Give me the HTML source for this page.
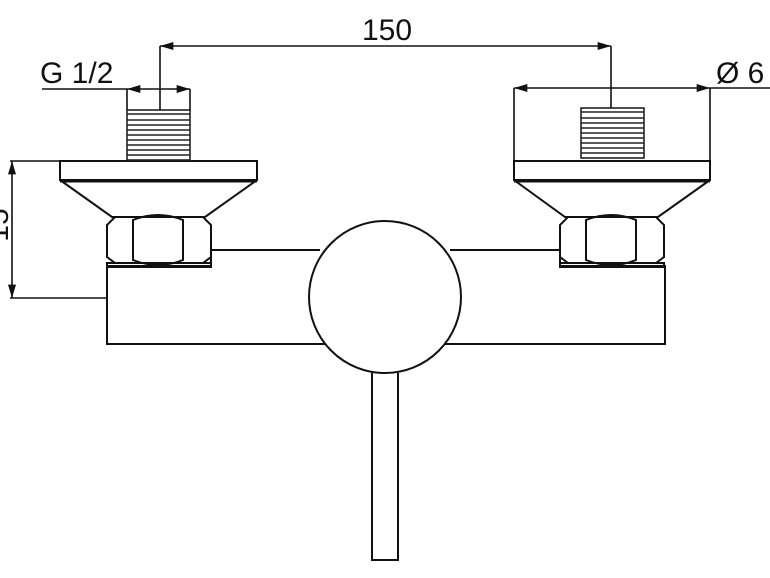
<!DOCTYPE html>
<html><head><style>body{margin:0;background:#fff}svg{display:block}</style></head><body>
<svg width="770" height="578" viewBox="0 0 770 578" xmlns="http://www.w3.org/2000/svg">
<defs>
<marker id="a" viewBox="0 0 10 6" refX="10" refY="3" markerWidth="18" markerHeight="8" markerUnits="userSpaceOnUse" orient="auto-start-reverse"><path d="M0,0 L10,3 L0,6 z" fill="#111"/></marker>
<g id="thr" stroke="#222" stroke-width="1.6" fill="none">
<rect x="0" y="0" width="63" height="50"/>
<path d="M0,4H63M0,10H63M0,15H63M0,20H63M0,25H63M0,30H63M0,35H63M0,40H63M0,45H63"/>
</g>
</defs>
<g stroke="#111" stroke-width="2" fill="none">
<!-- body -->
<path d="M320,250 H211 V266 H107 V344 H665 V266 H560 V250 H450"/>
<circle cx="385" cy="297" r="76" fill="#fff"/>
<path d="M372,373 V560 H398 V373"/>
<!-- left fitting -->
<rect x="60" y="161" width="197" height="19"/>
<path d="M60,180 L112,217 H205 L257,180"/>
<path d="M60,181 H257" stroke-width="3"/>
<rect x="107" y="263" width="104" height="4"/>
<path d="M115,217 H203 L211,225 V257 L203,263 H115 L107,257 V225 Z"/>
<path d="M133,220 Q158,210 183,220 V260 Q158,270 133,260 Z"/>
<!-- right fitting -->
<rect x="514" y="161" width="196" height="19"/>
<path d="M514,180 L565,217 H658 L710,180"/>
<path d="M514,181 H710" stroke-width="3"/>
<rect x="560" y="263" width="104" height="4"/>
<path d="M568,217 H656 L664,225 V257 L656,263 H568 L560,257 V225 Z"/>
<path d="M586,220 Q611,210 636,220 V260 Q611,270 586,260 Z"/>
</g>
<use href="#thr" x="127" y="110"/>
<use href="#thr" x="581" y="108"/>
<g stroke="#111" stroke-width="1.6" fill="none">
<path d="M160,46 H611" marker-start="url(#a)" marker-end="url(#a)"/>
<path d="M160,46 V110 M611,46 V108"/>
<path d="M42,89 H127 M127,89 V110 M190,89 V110"/>
<path d="M160,89 H127" marker-end="url(#a)"/>
<path d="M160,89 H190" marker-end="url(#a)"/>
<path d="M514,88 H710" marker-start="url(#a)" marker-end="url(#a)"/>
<path d="M710,88 H770 M514,88 V161 M710,88 V161"/>
<path d="M12,161 V298" marker-start="url(#a)" marker-end="url(#a)"/>
<path d="M10,161 H60 M10,298 H107"/>
</g>
<g font-family="Liberation Sans, sans-serif" font-size="30" fill="#111">
<text x="387" y="40" text-anchor="middle">150</text>
<text x="40" y="83">G 1/2</text>
<text x="716" y="83">Ø 6</text>
<text transform="translate(8,225) rotate(-90)" text-anchor="middle">15</text>
</g>
</svg>
</body></html>
